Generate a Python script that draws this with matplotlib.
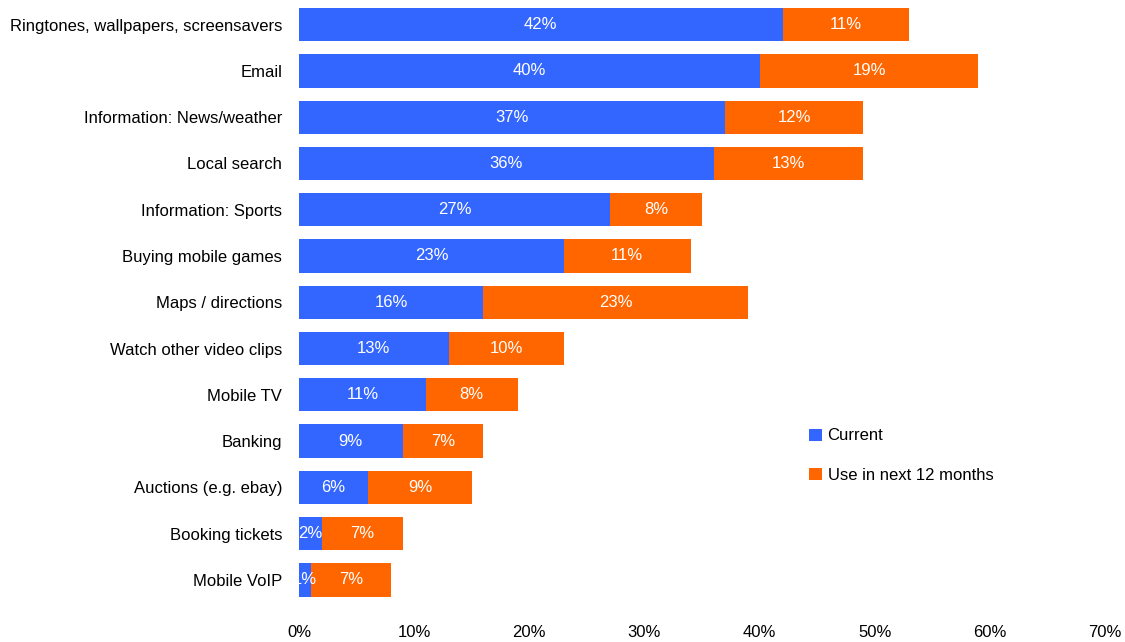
import numpy as np
import matplotlib
matplotlib.use("Agg")
import matplotlib.pyplot as plt
from matplotlib.ticker import MultipleLocator, FuncFormatter

plt.rcParams['font.family'] = ['Liberation Sans', 'DejaVu Sans']

categories = ['Ringtones, wallpapers, screensavers', 'Email', 'Information: News/weather',
              'Local search', 'Information: Sports', 'Buying mobile games',
              'Maps / directions', 'Watch other video clips', 'Mobile TV', 'Banking',
              'Auctions (e.g. ebay)', 'Booking tickets', 'Mobile VoIP']
current = [42, 40, 37, 36, 27, 23, 16, 13, 11, 9, 6, 2, 1]
next12 = [11, 19, 12, 13, 8, 11, 23, 10, 8, 7, 9, 7, 7]
series_names = ['Current', 'Use in next 12 months']

blue = '#3366FF'
orange = '#FF6600'

fig = plt.figure(figsize=(11.25, 6.42), dpi=100)
ax = fig.add_axes([0.2658, 0.0607, 0.7165, 0.937])

y = np.arange(len(categories))
cur = np.array(current)
nxt = np.array(next12)
b1 = ax.barh(y, cur, height=0.72, color=blue, label=series_names[0])
b2 = ax.barh(y, nxt, left=cur, height=0.72, color=orange, label=series_names[1])

for yi, c, n in zip(y, cur, nxt):
    ax.text(c / 2, yi, f'{c}%', ha='center', va='center', color='white', fontsize=12)
    ax.text(c + n / 2, yi, f'{n}%', ha='center', va='center', color='white', fontsize=12)

ax.set_yticks(y)
ax.set_yticklabels(categories, fontsize=12)
ax.set_ylim(len(categories) - 0.5, -0.5)
ax.set_xlim(0, 70)
ax.xaxis.set_major_locator(MultipleLocator(10))
ax.xaxis.set_major_formatter(FuncFormatter(lambda v, p: f'{v:.0f}%'))
ax.tick_params(axis='x', labelsize=12, length=0, pad=16)
ax.tick_params(axis='y', length=0, pad=12)
for s in ax.spines.values():
    s.set_visible(False)

fig.legend(handles=[b1, b2], loc='upper left', bbox_to_anchor=(0.706, 0.356),
           frameon=False, fontsize=12, handlelength=0.75, handleheight=0.75,
           handletextpad=0.35, labelspacing=1.45)

fig.savefig('out.png', dpi=100)
